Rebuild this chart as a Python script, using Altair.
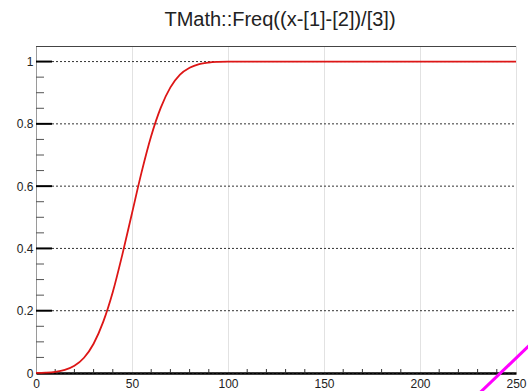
import altair as alt
import pandas as pd

# Curve
curve_x = [0, 5, 10, 15, 20, 25, 30, 35, 40, 45, 50, 55, 60, 65, 70, 75, 80, 85, 90, 95, 100, 150, 200, 250]
curve_y = [0.0004, 0.0013, 0.0038, 0.0099, 0.0231, 0.049, 0.094, 0.164, 0.260, 0.381, 0.513,
           0.645, 0.761, 0.852, 0.917, 0.958, 0.980, 0.992, 0.997, 0.999, 1.0, 1.0, 1.0, 1.0]

x_ticks = [0, 50, 100, 150, 200, 250]
x_minor = [10, 20, 30, 40, 60, 70, 80, 90, 110, 120, 130, 140, 160, 170, 180, 190, 210, 220, 230, 240]
y_ticks = [0, 0.2, 0.4, 0.6, 0.8, 1.0]
y_minor = [0.05, 0.1, 0.15, 0.25, 0.3, 0.35, 0.45, 0.5, 0.55, 0.65, 0.7, 0.75, 0.85, 0.9, 0.95]

# stray magenta stroke in the lower right corner
stray_x = [230, 260]
stray_y = [-0.0703, 0.1066]

title_text = ["TMath::Freq((x-[1]-[2])/[3])"]

FONT = "Liberation Sans"
W, H = 480, 327

xs = alt.Scale(domain=[0, 250], nice=False, zero=False)
ys = alt.Scale(domain=[0, 1.05], nice=False, zero=False)

curve_df = pd.DataFrame({"x": curve_x, "y": curve_y})
ymaj_df = pd.DataFrame({"y": y_ticks})
ymin_df = pd.DataFrame({"y": y_minor})
xmin_df = pd.DataFrame({"x": x_minor})
stray_df = pd.DataFrame({"x": stray_x, "y": stray_y})
title_df = pd.DataFrame({"t": title_text})

x_axis = alt.Axis(values=x_ticks, grid=True, gridColor="#e2e2e2", gridWidth=1,
                  ticks=False, domainColor="#000000", domainWidth=2.5,
                  labelFont=FONT, labelFontSize=12, labelColor="#222222",
                  labelPadding=5, title=None, labelFlush=False)
y_axis = alt.Axis(values=y_ticks, grid=False, ticks=False, format="~g",
                  domainColor="#9a9a9a", domainWidth=1,
                  labelFont=FONT, labelFontSize=12, labelColor="#222222",
                  labelPadding=3, title=None)

axes = alt.Chart(curve_df).mark_point(opacity=0).encode(
    x=alt.X("x:Q", scale=xs, axis=x_axis),
    y=alt.Y("y:Q", scale=ys, axis=y_axis),
)

hgrid = alt.Chart(ymaj_df).mark_rule(color="#333333", strokeWidth=1, strokeDash=[2, 2]).encode(
    y=alt.Y("y:Q", scale=ys), x=alt.value(16), x2=alt.value(W))

ymaj = alt.Chart(ymaj_df).mark_rule(color="#000000", strokeWidth=2).encode(
    y=alt.Y("y:Q", scale=ys), x=alt.value(0), x2=alt.value(16))

ymin = alt.Chart(ymin_df).mark_rule(color="#555555", strokeWidth=1).encode(
    y=alt.Y("y:Q", scale=ys), x=alt.value(0), x2=alt.value(8))

xmin = alt.Chart(xmin_df).mark_rule(color="#333333", strokeWidth=1).encode(
    x=alt.X("x:Q", scale=xs), y=alt.value(H - 4), y2=alt.value(H))

top_border = alt.Chart(ymaj_df).mark_rule(color="#444444", strokeWidth=1).encode(
    x=alt.value(0), x2=alt.value(W), y=alt.value(0.5))

curve = alt.Chart(curve_df).mark_line(color="#dd1616", strokeWidth=1.8, interpolate="monotone").encode(
    x=alt.X("x:Q", scale=xs), y=alt.Y("y:Q", scale=ys))

stray = alt.Chart(stray_df).mark_line(color="#ff00ff", strokeWidth=3, clip=False).encode(
    x=alt.X("x:Q", scale=xs), y=alt.Y("y:Q", scale=ys))

title = alt.Chart(title_df).mark_text(font=FONT, fontSize=20, color="#222222",
                                      align="center", baseline="alphabetic").encode(
    text="t:N", x=alt.value(244), y=alt.value(-20))

chart = alt.layer(axes, hgrid, ymaj, ymin, xmin, top_border, curve, stray, title).properties(
    width=W, height=H,
    autosize=alt.AutoSizeParams(type="none"),
    padding={"left": 36, "top": 46, "right": 12, "bottom": 18},
).configure_view(stroke=None).configure(background="white")

chart.save("out.html", embed_options={"renderer": "svg", "actions": False})
